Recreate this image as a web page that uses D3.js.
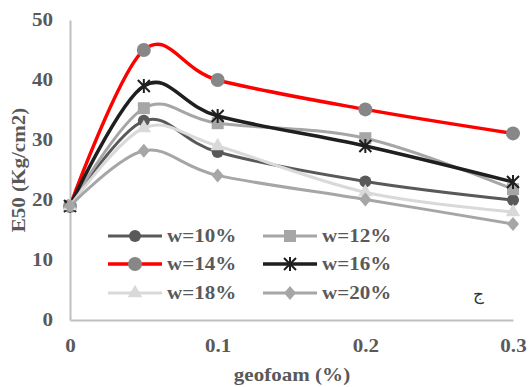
<!DOCTYPE html>
<html>
<head>
<meta charset="utf-8">
<script src="https://cdn.jsdelivr.net/npm/d3@7"></script>
<style>
  body { margin: 0; background: #fff; }
  svg text { font-family: 'Liberation Serif', 'Times New Roman', Tinos, 'DejaVu Serif', serif; font-weight: bold; fill: #595959; }
</style>
</head>
<body>
<svg id="chart" width="529" height="387"></svg>
<script>
// data
var geofoam = [0, 0.05, 0.1, 0.2, 0.3];
var w10 = [19, 33.2, 28, 23.1, 20];
var w12 = [19, 35.3, 32.8, 30.3, 21.8];
var w14 = [19, 45, 40, 35.1, 31.1];
var w16 = [19, 39, 34, 29, 23];
var w18 = [19, 32, 29, 21.3, 18];
var w20 = [19, 28.2, 24.1, 20.1, 16];
var xTicks = [0, 0.1, 0.2, 0.3];
var yTicks = [0, 10, 20, 30, 40, 50];

var series = [
  { name: "w=10%", values: w10, line: "#595959", fill: "#595959", marker: "circle", width: 3 },
  { name: "w=12%", values: w12, line: "#a6a6a6", fill: "#a6a6a6", marker: "square", width: 3 },
  { name: "w=14%", values: w14, line: "#ff0000", fill: "#878787", marker: "circle", width: 3.5 },
  { name: "w=16%", values: w16, line: "#1f1f1f", fill: "#1f1f1f", marker: "star", width: 3.5 },
  { name: "w=18%", values: w18, line: "#d9d9d9", fill: "#d9d9d9", marker: "triangle", width: 3 },
  { name: "w=20%", values: w20, line: "#a6a6a6", fill: "#a6a6a6", marker: "diamond", width: 3 }
];

var stretch = 1.17; // the original glyphs are wider than Times
var svg = d3.select("#chart");

var x = d3.scaleLinear().domain([0, 0.3]).range([70, 513]);
var y = d3.scaleLinear().domain([0, 50]).range([320, 20]);

// axes
var xAxis = svg.append("g").attr("transform", "translate(0,320)")
    .call(d3.axisBottom(x).tickValues(xTicks).tickSize(0).tickPadding(19)
      .tickFormat(function(d) { return d === 0 ? "0" : d3.format(".1f")(d); }));
var yAxis = svg.append("g").attr("transform", "translate(70,0)")
    .call(d3.axisLeft(y).tickValues(yTicks).tickSize(0).tickPadding(17));

[xAxis, yAxis].forEach(function(a) {
  a.attr("font-size", 18);
  a.select(".domain").attr("stroke", "#bfbfbf").attr("stroke-width", 2);
  a.selectAll(".tick text").each(function() {
    var t = d3.select(this), tx = +t.attr("x") || 0;
    t.attr("x", 0).attr("fill", "#595959")
      .attr("transform", "translate(" + tx + ",0) scale(" + stretch + ",1)");
  });
});

svg.append("text")
    .attr("transform", "translate(292,381) scale(" + stretch + ",1)")
    .attr("text-anchor", "middle")
    .style("font-size", "18px")
    .text("geofoam (%)");

svg.append("text")
    .attr("transform", "translate(25,170) rotate(-90) scale(" + stretch + ",1)")
    .attr("text-anchor", "middle")
    .style("font-size", "18px")
    .text("E50 (Kg/cm2)");

var line = d3.line()
    .x(function(d, i) { return x(geofoam[i]); })
    .y(function(d) { return y(d); })
    .curve(d3.curveCatmullRom.alpha(0));

function drawMarker(g, s, cx, cy) {
  if (s.marker === "circle") {
    g.append("circle").attr("cx", cx).attr("cy", cy)
      .attr("r", s.name === "w=14%" ? 7 : 6).attr("fill", s.fill);
  } else if (s.marker === "square") {
    g.append("rect").attr("x", cx - 6).attr("y", cy - 6)
      .attr("width", 12).attr("height", 12).attr("fill", s.fill);
  } else if (s.marker === "triangle") {
    g.append("path").attr("transform", "translate(" + cx + "," + cy + ")")
      .attr("d", d3.symbol().type(d3.symbolTriangle).size(90)).attr("fill", s.fill);
  } else if (s.marker === "diamond") {
    g.append("path").attr("transform", "translate(" + cx + "," + cy + ")")
      .attr("d", "M0,-7L6,0L0,7L-6,0Z").attr("fill", s.fill);
  } else if (s.marker === "star") {
    g.append("path").attr("transform", "translate(" + cx + "," + cy + ")")
      .attr("d", "M-6,-6L6,6M-6,6L6,-6M0,-7L0,7")
      .attr("stroke", s.fill).attr("stroke-width", 2).attr("fill", "none");
  }
}

var plot = svg.append("g");
series.forEach(function(s) {
  var g = plot.append("g");
  g.append("path")
    .attr("d", line(s.values))
    .attr("fill", "none")
    .attr("stroke", s.line)
    .attr("stroke-width", s.width)
    .attr("stroke-linejoin", "round");
  s.values.forEach(function(v, i) {
    drawMarker(g, s, x(geofoam[i]), y(v));
  });
});

// legend
var legendRows = [236, 264, 293];
var legendCols = [108, 263];
series.forEach(function(s, i) {
  var lx = legendCols[i % 2], ly = legendRows[Math.floor(i / 2)];
  var g = svg.append("g");
  g.append("line")
    .attr("x1", lx).attr("x2", lx + 54)
    .attr("y1", ly).attr("y2", ly)
    .attr("stroke", s.line).attr("stroke-width", s.width);
  drawMarker(g, s, lx + 27, ly);
  g.append("text")
    .attr("transform", "translate(" + (lx + 59) + "," + (ly + 6) + ") scale(" + stretch + ",1)")
    .style("font-size", "18px")
    .text(s.name);
});

svg.append("text")
    .attr("x", 478).attr("y", 300)
    .attr("text-anchor", "middle")
    .style("font-size", "17px")
    .style("font-weight", "normal")
    .style("fill", "#333")
    .text("ج");
</script>
</body>
</html>
